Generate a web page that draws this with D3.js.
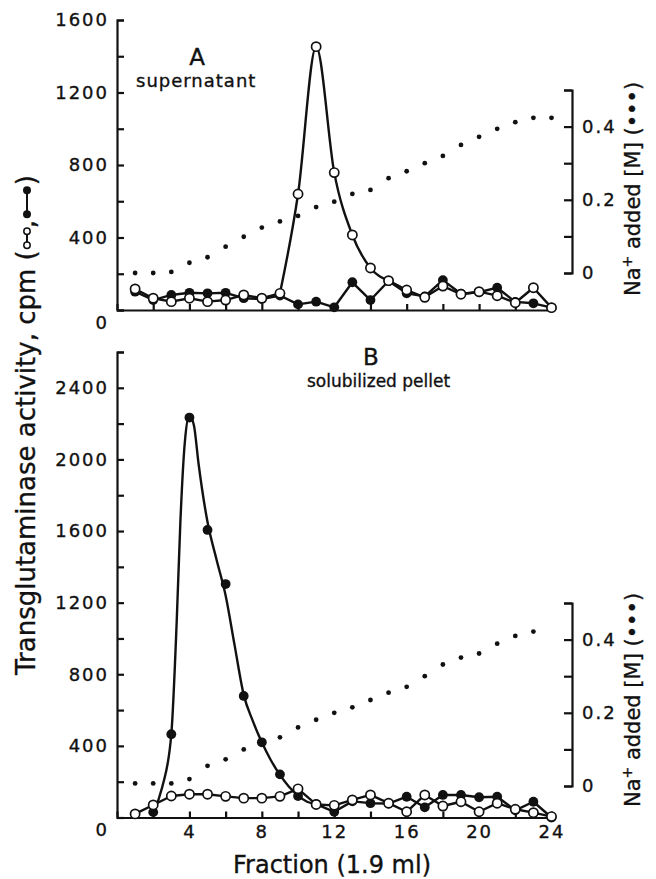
<!DOCTYPE html>
<html lang="en">
<head>
  <meta charset="UTF-8">
  <title>Transglutaminase activity</title>
  <script src="https://cdn.jsdelivr.net/npm/d3@7"></script>
  <style>
    html, body { margin: 0; padding: 0; background: #fff; }
    svg { display: block; }
    text { font-family: "DejaVu Sans", sans-serif; fill: #111; stroke: #111; stroke-width: 0.35px; }
    .axis { color: #111; }
    .axis path, .axis line { stroke-width: 2.2; }
    .axis text { font-size: 18px; letter-spacing: 2px; }
    .title { font-size: 26px; }
    .rtitle { font-size: 21px; }
  </style>
</head>
<body>
  <svg width="656" height="879"></svg>

  <script>
    // fraction numbers (x)
    const fractions = [1, 2, 3, 4, 5, 6, 7, 8, 9, 10, 11, 12, 13, 14, 15, 16, 17, 18, 19, 20, 21, 22, 23, 24]

    // panel A, supernatant (cpm)
    const topOpen = [116, 65, 46, 65, 46, 55, 83, 65, 92, 640, 1453, 758, 414, 232, 162, 110, 70, 132, 87, 101, 79, 40, 123, 13]
    const topFilled = [101, 55, 83, 95, 92, 95, 65, 60, 80, 31, 46, 15, 153, 55, 160, 92, 75, 165, 90, 98, 123, 45, 37, 13]
    const topNa = [0, 0, 0.003, 0.028, 0.043, 0.072, 0.099, 0.124, 0.141, 0.156, 0.18, 0.195, 0.216, 0.227, 0.259, 0.278, 0.3, 0.32, 0.35, 0.372, 0.394, 0.412, 0.424, 0.424]

    // panel B, solubilized pellet (cpm)
    const botOpen = [20, 70, 120, 130, 130, 118, 108, 108, 118, 160, 73, 68, 98, 126, 80, 32, 126, 64, 88, 32, 80, 46, 27, 5]
    const botFilled = [null, 30, 465, 2234, 1606, 1304, 679, 420, 241, 120, 75, 32, 90, 80, 78, 116, 57, 126, 126, 113, 116, 40, 88, 0]
    const botNa = [0.007, 0.007, 0.007, 0.019, 0.055, 0.073, 0.1, 0.118, 0.133, 0.16, 0.181, 0.2, 0.215, 0.235, 0.255, 0.271, 0.3, 0.332, 0.351, 0.362, 0.389, 0.41, 0.422, null]

    // hand-drawn peak curve of panel B
    const botCurveF = [2, 2.5, 3, 3.3, 3.5, 3.75, 4, 4.25, 4.5, 5, 5.5, 6, 6.5, 7, 7.5, 8, 8.5, 9, 9.5, 10, 10.5, 11]
    const botCurveV = [30, 170, 465, 1100, 1650, 2100, 2245, 2190, 1980, 1650, 1440, 1240, 960, 685, 540, 420, 320, 238, 172, 122, 88, 75]

    // tick labels
    const topTicks = [0, 400, 800, 1200, 1600]
    const botTicks = [0, 400, 800, 1200, 1600, 2000, 2400]
    const fracTicks = [4, 8, 12, 16, 20, 24]
    const naTicks = [0, 0.2, 0.4]

    const svg = d3.select('svg')
    const x = d3.scaleLinear().domain([0, 24]).range([117, 551.5])
    const xLeft = 117
    const xRight = 572

    const pts = arr => fractions.map((f, i) => ({ f, v: arr[i] })).filter(d => d.v != null)

    function panel(cfg) {
      const y = d3.scaleLinear().domain([0, cfg.yMax]).range([cfg.y0, cfg.y1])
      const yr = d3.scaleLinear().domain([0, 0.5]).range([cfg.r0, cfg.r1])

      // left axis
      const gl = svg.append('g').attr('class', 'axis')
        .attr('transform', `translate(${xLeft},0)`)
        .call(d3.axisLeft(y)
          .tickValues(d3.range(0, cfg.yMax + 1, 200))
          .tickSize(-7).tickPadding(8)
          .tickFormat(d => cfg.ticks.includes(d) ? d : ''))
      gl.selectAll('.tick text').filter(d => d === 0).attr('dy', '1em')

      // bottom axis
      svg.append('g').attr('class', 'axis')
        .attr('transform', `translate(0,${y(0)})`)
        .call(d3.axisBottom(x)
          .tickValues(d3.range(0, 25, 2))
          .tickSize(-6).tickSizeOuter(0).tickPadding(8)
          .tickFormat(d => cfg.xLabels && fracTicks.includes(d) ? d : ''))

      // right axis (Na+)
      svg.append('g').attr('class', 'axis')
        .attr('transform', `translate(${xRight},0)`)
        .call(d3.axisRight(yr)
          .tickValues(d3.range(0, 0.51, 0.1))
          .tickSize(-8).tickPadding(10)
          .tickFormat(d => {
            const hit = naTicks.find(v => Math.abs(v - d) < 1e-6)
            return hit === undefined ? '' : (hit === 0 ? '0' : hit.toFixed(1))
          }))

      // right title
      const rt = svg.append('text').attr('class', 'rtitle')
        .attr('transform', `translate(640,${cfg.rtY}) rotate(-90)`)
        .attr('text-anchor', 'middle')
      rt.append('tspan').text('Na')
      rt.append('tspan').attr('dy', -8).attr('font-size', 14).style('font-size', '14px').text('+')
      rt.append('tspan').attr('dy', 8).text(' added [M] (•••)')

      const line = d3.line().x(d => x(d.f)).y(d => y(d.v))
      const path = (s, c) => svg.append('path').datum(s)
        .attr('d', line.curve(c))
        .attr('fill', 'none').attr('stroke', '#111')
        .attr('stroke-width', 2.4).attr('stroke-linejoin', 'round')

      const drawLine = (data, smooth, curvePts) => {
        if (!smooth) { path(data, d3.curveLinear); return }
        path(data.filter(d => d.f <= smooth[0]), d3.curveLinear)
        path(curvePts || data.filter(d => d.f >= smooth[0] && d.f <= smooth[1]), d3.curveMonotoneX)
        path(data.filter(d => d.f >= smooth[1]), d3.curveLinear)
      }

      const open = pts(cfg.open), filled = pts(cfg.filled), na = pts(cfg.na)
      drawLine(filled, cfg.smoothFilled, cfg.curve)
      drawLine(open, cfg.smoothOpen)

      svg.append('g').selectAll('circle').data(na).join('circle')
        .attr('cx', d => x(d.f)).attr('cy', d => yr(d.v)).attr('r', 2.4)
        .attr('fill', '#111')

      svg.append('g').selectAll('circle').data(filled).join('circle')
        .attr('cx', d => x(d.f)).attr('cy', d => y(d.v)).attr('r', 4.9)
        .attr('fill', '#111')

      svg.append('g').selectAll('circle').data(open).join('circle')
        .attr('cx', d => x(d.f)).attr('cy', d => y(d.v)).attr('r', 4.6)
        .attr('fill', '#fff').attr('stroke', '#111').attr('stroke-width', 1.7)
    }

    panel({
      yMax: 1600, y0: 310, y1: 20, r0: 273, r1: 90, rtY: 189,
      ticks: topTicks, xLabels: false,
      open: topOpen, filled: topFilled, na: topNa,
      smoothOpen: [9, 15], smoothFilled: null
    })

    panel({
      yMax: 2600, y0: 817.5, y1: 352, r0: 786, r1: 603, rtY: 700,
      ticks: botTicks, xLabels: true,
      open: botOpen, filled: botFilled, na: botNa,
      smoothOpen: null, smoothFilled: [2, 11],
      curve: botCurveF.map((f, i) => ({ f, v: botCurveV[i] }))
    })

    // panel captions
    svg.append('text').attr('x', 197).attr('y', 65).attr('text-anchor', 'middle')
      .attr('font-size', 23).text('A')
    svg.append('text').attr('x', 136).attr('y', 87)
      .attr('font-size', 18).attr('letter-spacing', 1).text('supernatant')
    svg.append('text').attr('x', 371).attr('y', 365).attr('text-anchor', 'middle')
      .attr('font-size', 23).text('B')
    svg.append('text').attr('x', 307).attr('y', 387)
      .attr('font-size', 17).text('solubilized pellet')

    // x title
    svg.append('text')
      .attr('x', 332).attr('y', 873).attr('text-anchor', 'middle')
      .style('font-size', '24px')
      .text('Fraction (1.9 ml)')

    // y title with the two series symbols
    const yt = svg.append('g').attr('transform', 'translate(35,675) rotate(-90)')
    const t1 = yt.append('text').attr('class', 'title').text('Transglutaminase activity, cpm (')
    const L = t1.node().getComputedTextLength()
    const my = -8
    yt.append('line').attr('x1', L + 5).attr('x2', L + 19).attr('y1', my).attr('y2', my)
      .attr('stroke', '#111').attr('stroke-width', 2)
    ;[L + 5, L + 19].forEach(cx => yt.append('circle').attr('cx', cx).attr('cy', my).attr('r', 3.2)
      .attr('fill', '#fff').attr('stroke', '#111').attr('stroke-width', 1.5))
    yt.append('text').attr('class', 'title').attr('x', L + 22).text(',')
    yt.append('line').attr('x1', L + 36).attr('x2', L + 60).attr('y1', my).attr('y2', my)
      .attr('stroke', '#111').attr('stroke-width', 2)
    ;[L + 36, L + 60].forEach(cx => yt.append('circle').attr('cx', cx).attr('cy', my).attr('r', 4)
      .attr('fill', '#111'))
    yt.append('text').attr('class', 'title').attr('x', L + 65).text(')')
  </script>
</body>
</html>
